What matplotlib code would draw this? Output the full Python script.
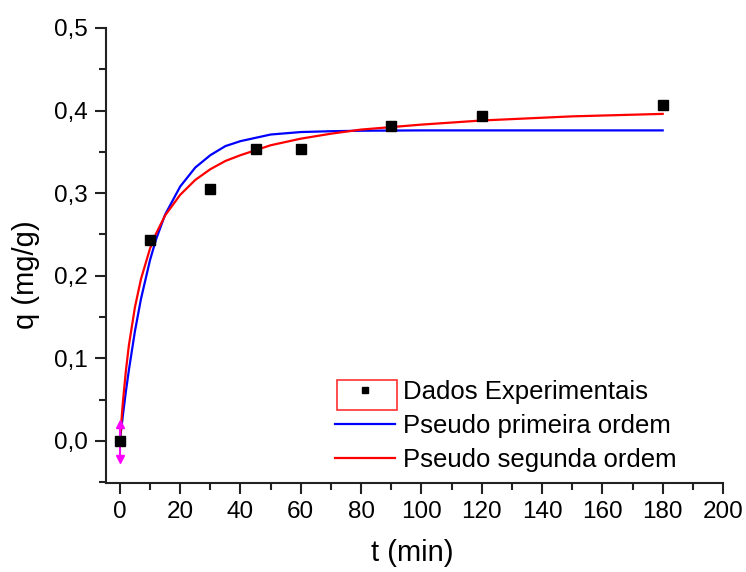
import matplotlib
matplotlib.use("Agg")
import matplotlib.pyplot as plt
from matplotlib.patches import Rectangle
from matplotlib.lines import Line2D
from matplotlib.ticker import MultipleLocator, FuncFormatter

plt.rcParams['font.family'] = ['Liberation Sans', 'DejaVu Sans']

# Experimental data
t_exp = [0, 10, 30, 45, 60, 90, 120, 180]
q_exp = [0.0, 0.243, 0.305, 0.353, 0.353, 0.381, 0.394, 0.407]

# Fitted curves
t_fit = [0, 1, 2, 3, 5, 7, 10, 12, 15, 20, 25, 30, 35, 40, 50, 60, 70, 80, 100, 120, 150, 180]
q_pfo = [0.0, 0.031, 0.060, 0.086, 0.133, 0.172, 0.219, 0.244, 0.274, 0.308, 0.331,
         0.346, 0.357, 0.363, 0.371, 0.374, 0.375, 0.3756, 0.376, 0.376, 0.376, 0.376]
q_pso = [0.0, 0.047, 0.085, 0.116, 0.162, 0.196, 0.233, 0.251, 0.273, 0.298, 0.316,
         0.329, 0.339, 0.346, 0.358, 0.366, 0.372, 0.377, 0.383, 0.388, 0.393, 0.396]

# error bar at t=0
err_t = [0, 0]
err_q = [-0.022, 0.020]

fig = plt.figure(figsize=(7.46, 5.72), dpi=100)
ax = fig.add_axes([106/746, 1-483/572, (723-106)/746, (483-28)/572])

ax.plot(t_fit, q_pfo, color='#0000ff', lw=1.6, zorder=3)
ax.plot(t_fit, q_pso, color='#ff0000', lw=1.6, zorder=3)
ax.plot(err_t, err_q, color='#ff00ff', lw=1.5, zorder=4)
ax.plot([err_t[1]], [err_q[1]], marker='^', color='#ff00ff', ms=6, zorder=4)
ax.plot([err_t[0]], [err_q[0]], marker='v', color='#ff00ff', ms=6, zorder=4)
ax.plot(t_exp, q_exp, 's', color='black', ms=7.5, ls='none', zorder=5)

ax.set_xlim(-4.6, 200)
ax.set_ylim(-0.051, 0.5)
ax.xaxis.set_major_locator(MultipleLocator(20))
ax.xaxis.set_minor_locator(MultipleLocator(10))
ax.yaxis.set_major_locator(MultipleLocator(0.1))
ax.yaxis.set_minor_locator(MultipleLocator(0.05))
ax.yaxis.set_major_formatter(FuncFormatter(lambda v, p: f"{v:.1f}".replace('.', ',')))

for s in ['top', 'right']:
    ax.spines[s].set_visible(False)
for s in ['left', 'bottom']:
    ax.spines[s].set_linewidth(1.5)
    ax.spines[s].set_color('#222222')
ax.tick_params(which='major', direction='out', length=8, width=1.5, labelsize=17.5,
               colors='#222222', pad=5)
ax.tick_params(which='minor', direction='out', length=5, width=1.5, colors='#222222')
ax.tick_params(labelcolor='black')

ax.set_xlabel('t (min)', fontsize=21)
ax.set_ylabel('q (mg/g)', fontsize=21)
ax.xaxis.set_label_coords(412/746, 1-553/572, transform=fig.transFigure)
ax.yaxis.set_label_coords(26/746, 1-275/572, transform=fig.transFigure)
ax.xaxis.label.set_va('center')
ax.yaxis.label.set_va('center')

handles = [Line2D([], [], marker='s', color='black', ms=5, ls='none'),
           Line2D([], [], color='#0000ff', lw=1.6),
           Line2D([], [], color='#ff0000', lw=1.6)]
labels = ['Dados Experimentais', 'Pseudo primeira ordem', 'Pseudo segunda ordem']
leg = ax.legend(handles, labels,
                loc='upper left', bbox_to_anchor=(335/746, 1-380/572),
                bbox_transform=fig.transFigure, frameon=False, fontsize=18.5,
                handlelength=2.35, handletextpad=0.3, labelspacing=0.38,
                borderaxespad=0, borderpad=0)
fig.patches.append(Rectangle((337/746, 1-410/572), 60/746, 30/572,
                             transform=fig.transFigure, fill=False,
                             edgecolor='#ff3030', lw=1.2))

fig.savefig('out.png', dpi=100)
